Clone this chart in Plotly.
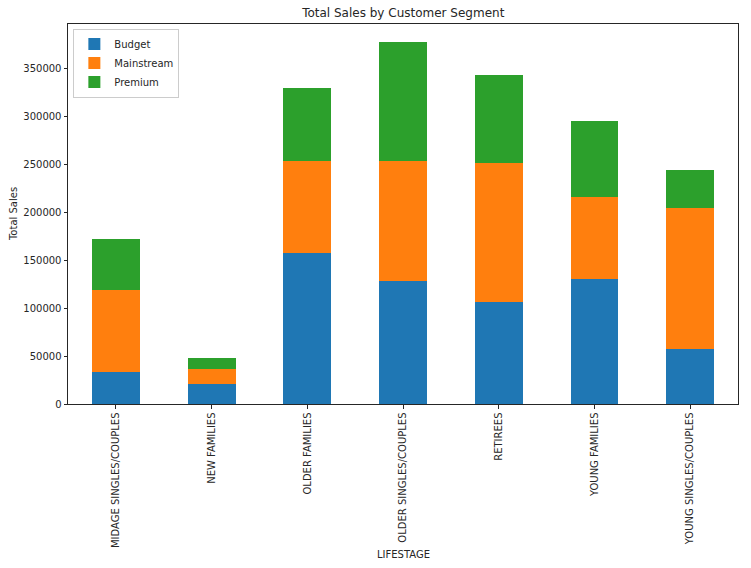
import plotly.graph_objects as go

categories = ["MIDAGE SINGLES/COUPLES", "NEW FAMILIES", "OLDER FAMILIES",
              "OLDER SINGLES/COUPLES", "RETIREES", "YOUNG FAMILIES",
              "YOUNG SINGLES/COUPLES"]
budget = [33300, 20800, 157000, 127900, 106000, 129900, 57200]
mainstream = [85200, 15600, 96600, 125700, 145600, 86300, 147600]
premium = [54000, 11400, 75900, 123700, 91400, 79000, 39500]
series_names = ["Budget", "Mainstream", "Premium"]
colors = ["#1f77b4", "#ff7f0e", "#2ca02c"]
y_ticks = [0, 50000, 100000, 150000, 200000, 250000, 300000, 350000]

totals = [a + b + c for a, b, c in zip(budget, mainstream, premium)]
ymax = max(totals) * 1.05

fig = go.Figure()
for name, vals, col in zip(series_names, [budget, mainstream, premium], colors):
    fig.add_trace(go.Bar(x=categories, y=vals, name=name, marker_color=col,
                         marker_line_width=0))

W, H = 751, 568
ml, mr, mt, mb = 68, 12.5, 23.5, 164
ph = H - mt - mb
pw = W - ml - mr

axis_common = dict(showline=True, linecolor="#262626", linewidth=1, mirror=True,
                   ticks="outside", ticklen=3.5, tickcolor="#262626",
                   showgrid=False, zeroline=False, automargin=False,
                   tickfont=dict(size=10, color="#262626"))

fig.update_layout(
    width=W, height=H,
    margin=dict(l=ml, r=mr, t=mt, b=mb),
    barmode="stack", bargap=0.5,
    plot_bgcolor="white", paper_bgcolor="white",
    font=dict(family="DejaVu Sans", size=10, color="#262626"),
    title=dict(text="Total Sales by Customer Segment", x=(ml + pw / 2) / W,
               xanchor="center", y=1 - 13 / H, yanchor="middle",
               font=dict(size=12, color="#262626")),
    xaxis=dict(**axis_common, tickangle=-90, range=[-0.5, 6.5]),
    yaxis=dict(**axis_common, range=[0, ymax], tickvals=y_ticks, tickformat="d"),
    legend=dict(x=0.008, y=0.988, xanchor="left", yanchor="top",
                traceorder="normal",
                bgcolor="rgba(255,255,255,0.8)", bordercolor="#cccccc",
                borderwidth=1, font=dict(size=10, color="#262626"),
                tracegroupgap=0),
    showlegend=True,
    annotations=[
        dict(text="LIFESTAGE", xref="paper", yref="paper", x=0.5,
             y=-(555 - (H - mb)) / ph, xanchor="center", yanchor="middle",
             showarrow=False, font=dict(size=10, color="#262626")),
        dict(text="Total Sales", xref="paper", yref="paper",
             x=-(ml - 13) / pw, y=0.5, xanchor="center", yanchor="middle",
             textangle=-90, showarrow=False, font=dict(size=10, color="#262626")),
    ],
)

fig.write_html("out.html", config={"displayModeBar": False},
               post_script="document.body.style.margin='0';document.body.style.overflow='hidden';")
